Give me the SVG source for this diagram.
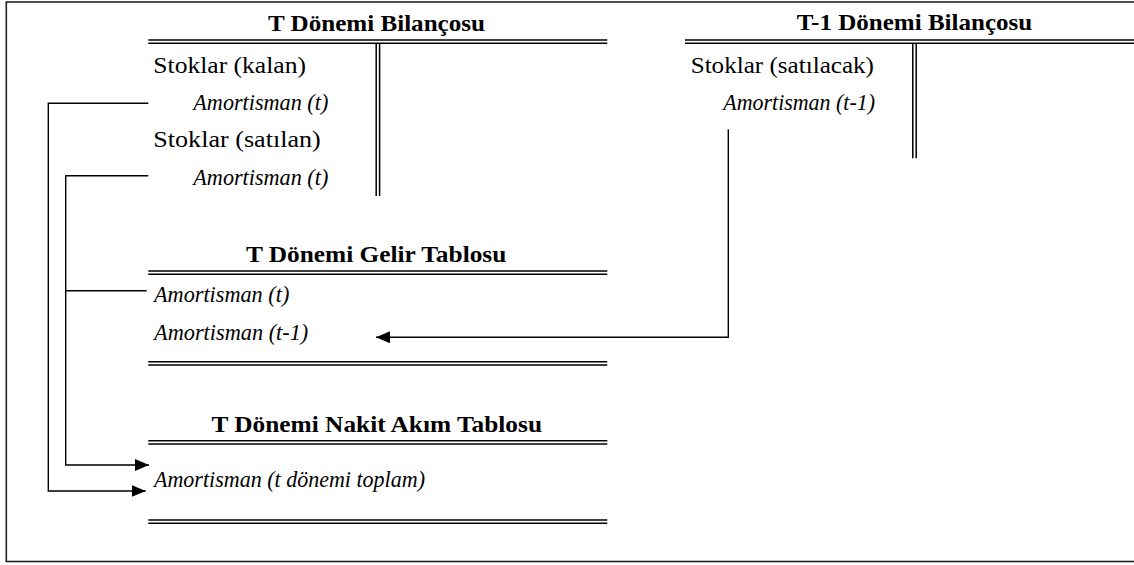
<svg xmlns="http://www.w3.org/2000/svg" width="1134" height="565" viewBox="0 0 1134 565">
<style>
text{font-family:"Liberation Serif","Times New Roman",serif;font-size:23px;fill:#000}
.t{font-weight:bold}
.i{font-style:italic}
.dl{stroke:#000;stroke-width:1.5;fill:none}
.c{stroke:#000;stroke-width:1.4;fill:none}
</style>
<defs>
<marker id="ah" markerUnits="userSpaceOnUse" markerWidth="14" markerHeight="12" refX="14" refY="6" orient="auto">
<path d="M0,0 L14,6 L0,12 Z" fill="#000"/>
</marker>
</defs>
<rect x="6.3" y="2" width="1140" height="559.5" fill="#fff" stroke="#222" stroke-width="1.6"/>

<g id="t-bilanco">
<text class="t" x="268" y="30.5" textLength="217" lengthAdjust="spacingAndGlyphs">T Dönemi Bilançosu</text>
<path class="dl" d="M148.3,40 H607.3 M148.3,43.2 H607.3 M376.2,43.2 V196 M379.6,43.2 V196"/>
<text x="153.3" y="72.5" textLength="152.7" lengthAdjust="spacingAndGlyphs">Stoklar (kalan)</text>
<text class="i" x="193.3" y="109.5" textLength="135" lengthAdjust="spacingAndGlyphs">Amortisman (t)</text>
<text x="153.3" y="147" textLength="167.4" lengthAdjust="spacingAndGlyphs">Stoklar (satılan)</text>
<text class="i" x="193.3" y="184.5" textLength="135" lengthAdjust="spacingAndGlyphs">Amortisman (t)</text>
</g>

<g id="t1-bilanco">
<text class="t" x="796.7" y="30" textLength="235.6" lengthAdjust="spacingAndGlyphs">T-1 Dönemi Bilançosu</text>
<path class="dl" d="M685,40 H1134 M685,43.2 H1134 M912.8,43.2 V158.3 M916.2,43.2 V158.3"/>
<text x="690.7" y="72.5" textLength="183.3" lengthAdjust="spacingAndGlyphs">Stoklar (satılacak)</text>
<text class="i" x="723.3" y="109.5" textLength="151.7" lengthAdjust="spacingAndGlyphs">Amortisman (t-1)</text>
</g>

<g id="gelir">
<text class="t" x="246" y="262.3" textLength="260.3" lengthAdjust="spacingAndGlyphs">T Dönemi Gelir Tablosu</text>
<path class="dl" d="M148.3,271 H607.3 M148.3,274.2 H607.3 M148.3,361.7 H607.3 M148.3,364.9 H607.3"/>
<text class="i" x="154" y="301.7" textLength="135.3" lengthAdjust="spacingAndGlyphs">Amortisman (t)</text>
<text class="i" x="154" y="340" textLength="154.3" lengthAdjust="spacingAndGlyphs">Amortisman (t-1)</text>
</g>

<g id="nakit">
<text class="t" x="211.5" y="431.7" textLength="330.5" lengthAdjust="spacingAndGlyphs">T Dönemi Nakit Akım Tablosu</text>
<path class="dl" d="M148.3,440.7 H607.3 M148.3,443.9 H607.3 M148.3,520 H607.3 M148.3,523.2 H607.3"/>
<text class="i" x="154" y="487.3" textLength="271" lengthAdjust="spacingAndGlyphs">Amortisman (t dönemi toplam)</text>
</g>

<g id="connectors">
<path class="c" d="M148.3,103.3 H48.3 V491 H145.7" marker-end="url(#ah)"/>
<path class="c" d="M148.3,175.7 H65.7 V465 H149" marker-end="url(#ah)"/>
<path class="c" d="M65.7,290.7 H146.7"/>
<path class="c" d="M728.3,129.3 V337.3 H376" marker-end="url(#ah)"/>
</g>
</svg>
